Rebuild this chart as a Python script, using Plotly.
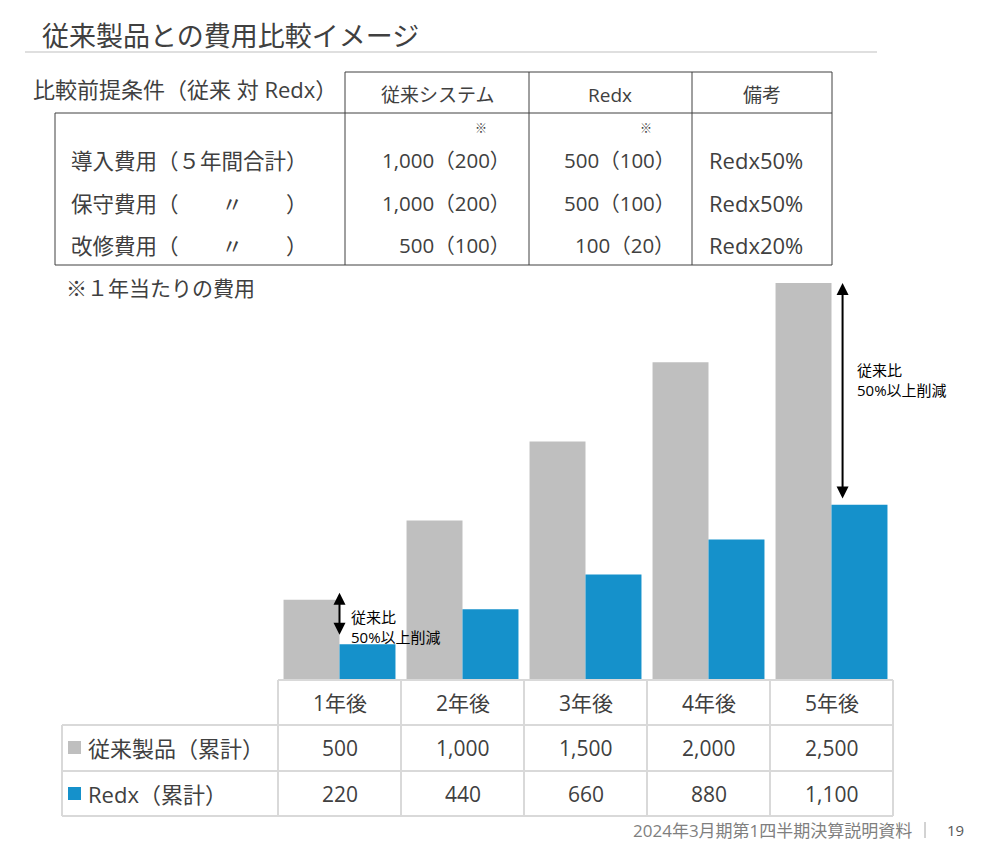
import plotly.graph_objects as go

OFF = 8                      # page body margin
W, H = 987 - OFF, 855 - OFF
FONT = "Open Sans, Noto Sans CJK JP"
TXT = "#404040"

# ---- data ----
years = ["1年後", "2年後", "3年後", "4年後", "5年後"]
conventional = [500, 1000, 1500, 2000, 2500]
redx = [220, 440, 660, 880, 1100]
conv_labels = ["500", "1,000", "1,500", "2,000", "2,500"]
redx_labels = ["220", "440", "660", "880", "1,100"]
series_names = ["従来製品（累計）", "Redx（累計）"]
series_colors = ["#BFBFBF", "#1591CB"]

cond_headers = ["従来システム", "Redx", "備考"]
cond_rows = ["導入費用（５年間合計）", "保守費用（　　〃　　）", "改修費用（　　〃　　）"]
cond_conv = ["1,000（200）", "1,000（200）", "500（100）"]
cond_redx = ["500（100）", "500（100）", "100（20）"]
cond_note = ["Redx50%", "Redx50%", "Redx20%"]

reduction_text = "従来比<br>50%以上削減"

def px(x):
    return (x - OFF) / W

def py(y):
    return 1 - (y - OFF) / H

fig = go.Figure()
fig.add_trace(go.Bar(x=years, y=conventional, name=series_names[0],
                     marker=dict(color=series_colors[0], line=dict(width=0))))
fig.add_trace(go.Bar(x=years, y=redx, name=series_names[1],
                     marker=dict(color=series_colors[1], line=dict(width=0))))

shapes = []
ann = []

def line(x0, y0, x1, y1, color, width):
    shapes.append(dict(type="line", xref="paper", yref="paper",
                       x0=px(x0), y0=py(y0), x1=px(x1), y1=py(y1),
                       line=dict(color=color, width=width)))

def text(x, y, s, size, anchor="left", color=TXT):
    ann.append(dict(xref="paper", yref="paper", x=px(x), y=py(y), text=s,
                    showarrow=False, xanchor=anchor, yanchor="middle",
                    font=dict(family=FONT, size=size, color=color)))

# Title
text(40, 35, "従来製品との費用比較イメージ", 27)
line(25, 52, 877, 52, "#BFBFBF", 1)

# Conditions table
text(31, 89, "比較前提条件（従来 対 Redx）", 22)
dark = "#404040"
line(345, 72, 832, 72, dark, 1)
line(55, 113, 832, 113, dark, 1)
line(55, 265, 832, 265, dark, 1)
line(55, 113, 55, 265, dark, 1)
for xv in [345, 529, 692, 832]:
    line(xv, 72, xv, 265, dark, 1)
hdr_cx = [437, 610, 762]
for cx, h in zip(hdr_cx, cond_headers):
    text(cx, 95, h, 19, "center")
text(481, 129, "※", 12, "center")
text(646, 129, "※", 12, "center")
row_y = [160, 203, 245]
for i, yv in enumerate(row_y):
    text(69, yv, cond_rows[i], 21.5)
    text(512, yv, cond_conv[i], 20.5, "right")
    text(677, yv, cond_redx[i], 20.5, "right")
    text(707, yv, cond_note[i], 22)
text(64, 288, "※１年当たりの費用", 21)

# Bottom data table
grid = "#D9D9D9"
col_edges = [278, 401, 524, 647, 770, 893]
line(278, 680, 893, 680, grid, 2)
for yv in [725, 771, 816]:
    line(62, yv, 893, yv, grid, 2)
line(62, 725, 62, 816, grid, 2)
for xv in col_edges:
    line(xv, 680, xv, 816, grid, 2)
for i in range(5):
    cx = (col_edges[i] + col_edges[i + 1]) / 2
    text(cx, 703, years[i], 21, "center")
    text(cx, 748, conv_labels[i], 21, "center")
    text(cx, 794, redx_labels[i], 21, "center")
for k, yv in enumerate([748, 794]):
    shapes.append(dict(type="rect", xref="paper", yref="paper",
                       x0=px(68), x1=px(81), y0=py(yv - 7), y1=py(yv + 6),
                       fillcolor=series_colors[k], line=dict(width=0)))
    text(86, yv, series_names[k], 22)

# Footer
text(914, 830, "2024年3月期第1四半期決算説明資料", 17, "right", "#7F7F7F")
line(925, 822, 925, 838, "#A6A6A6", 1)
text(955, 830, "19", 15, "center", "#595959")

# Reduction arrows (data coordinates)
arrow_specs = [(0.0, conventional[0] + 45, redx[0] + 50, 330, 9),
               (4.09, conventional[4], redx[4] + 30, 1890, 12)]
for xpos, top, bottom, ty, shift in arrow_specs:
    ann.append(dict(xref="x", yref="y", axref="x", ayref="y",
                    x=xpos, y=top, ax=xpos, ay=bottom,
                    text="", showarrow=True, arrowhead=2, arrowside="end+start",
                    arrowsize=1.2, arrowwidth=2, arrowcolor="#000000"))
    ann.append(dict(xref="x", yref="y", x=xpos, y=ty,
                    xshift=shift, text=reduction_text, showarrow=False, xanchor="left",
                    yanchor="middle", align="left",
                    font=dict(family=FONT, size=15, color="#000000")))

y_top = 2600
fig.update_layout(
    width=W, height=H,
    margin=dict(l=0, r=0, t=0, b=0),
    paper_bgcolor="white", plot_bgcolor="white",
    barmode="group", bargap=0.09, bargroupgap=0,
    showlegend=False,
    xaxis=dict(domain=[px(278), px(893)], range=[-0.5, len(years) - 0.5],
               autorange=False, showticklabels=False, showgrid=False,
               zeroline=False, showline=False, ticks=""),
    yaxis=dict(domain=[py(679), py(679 - y_top * 0.1584)], range=[0, y_top],
               autorange=False, showticklabels=False, showgrid=False,
               zeroline=False, showline=False),
    shapes=shapes, annotations=ann,
    font=dict(family=FONT, color=TXT),
)
fig.write_html("out.html")
